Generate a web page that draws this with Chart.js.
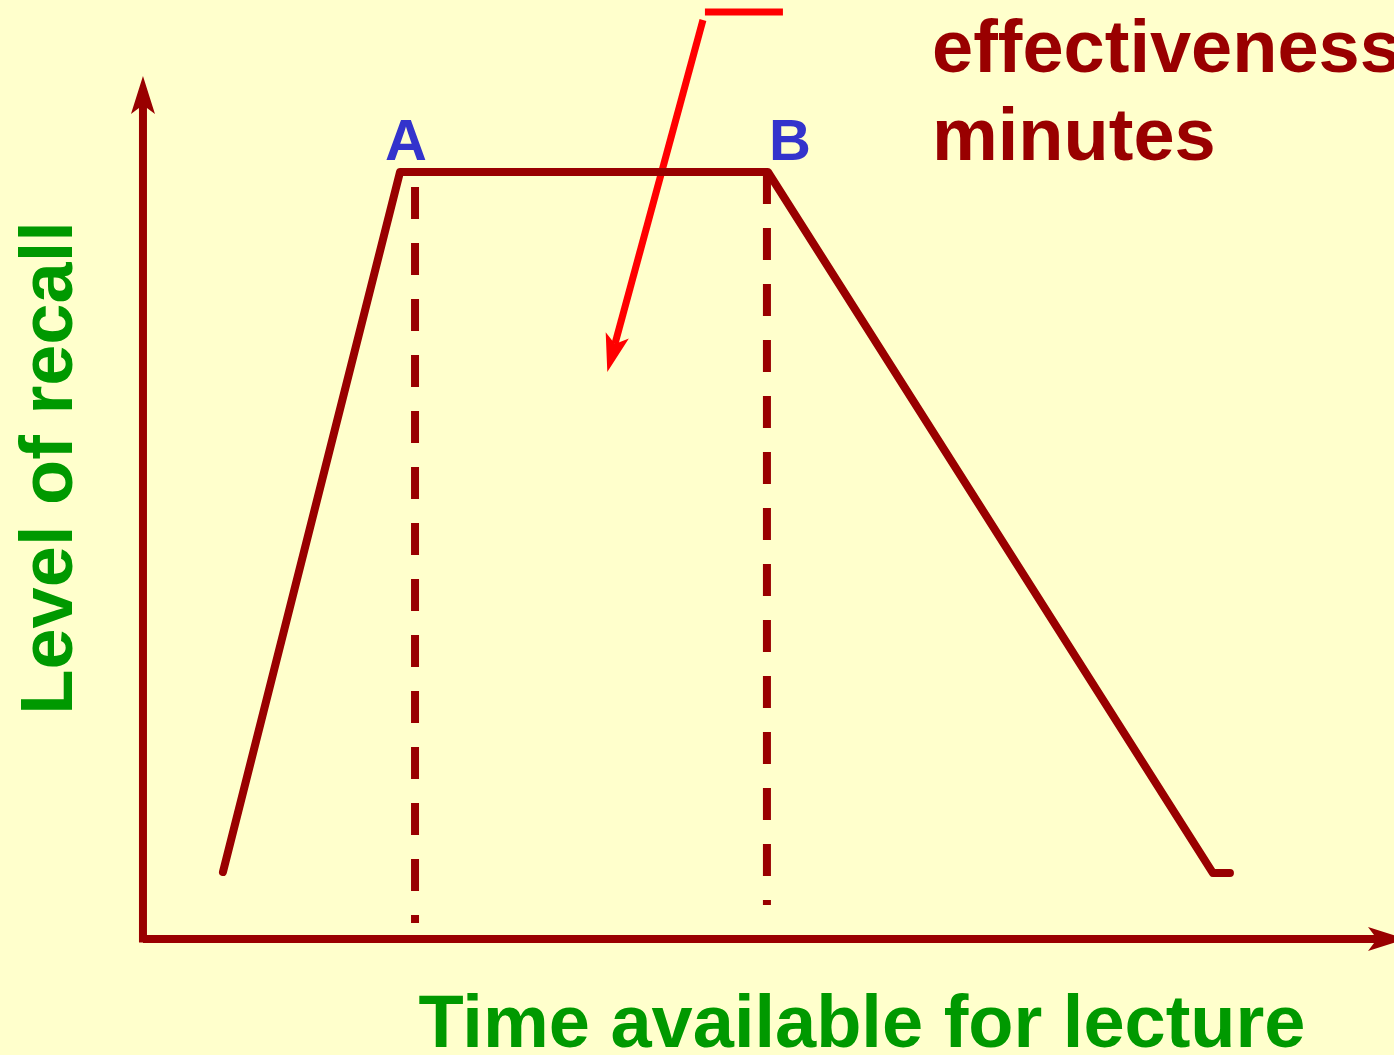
<!DOCTYPE html>
<html>
<head>
<meta charset="utf-8">
<script src="https://cdn.jsdelivr.net/npm/chart.js@4"></script>
<style>
  html, body { margin: 0; padding: 0; background: #FFFFCC; overflow: hidden; }
  canvas { display: block; }
</style>
</head>
<body>
<canvas id="recall" width="1394" height="1055"></canvas>
<script>
// recall curve (arbitrary units, origin at the axes corner)
const recallX = [6.45, 20.73, 50.40, 86.29, 87.66];
const recallY = [7.79, 89.19, 89.19, 7.67, 7.67];

// dashed markers A and B
const markLabels = ['A', 'B'];
const markX = [21.94, 50.32];
const markTop = [87.44, 89.19];
const markBottom = [1.86, 3.95];

// red pointer: short bar at the top, then the arrow shaft
const barX = [51.61, 45.32];
const barY = [107.79, 107.79];
const shaftX = [45.16, 38.06];
const shaftY = [106.86, 69.19];

// axes
const axisX = [0, 99.52];
const axisY = [-0.4, 96.98];

const xTitle = 'Time available for lecture';
const yTitle = 'Level of recall';
const noteLines = ['effectiveness', 'minutes'];

const DARK_RED = '#990000';

const toPoints = (xs, ys) => xs.map((x, i) => ({ x: x, y: ys[i] }));

const datasets = [
    {
        label: 'x axis',
        data: [{ x: axisX[0], y: 0 }, { x: axisX[1], y: 0 }],
        borderColor: DARK_RED, borderWidth: 8, borderCapStyle: 'butt',
        arrow: DARK_RED
    },
    {
        label: 'y axis',
        data: [{ x: 0, y: axisY[0] }, { x: 0, y: axisY[1] }],
        borderColor: DARK_RED, borderWidth: 8, borderCapStyle: 'butt',
        arrow: DARK_RED
    },
    {
        label: 'recall',
        data: toPoints(recallX, recallY),
        borderColor: DARK_RED, borderWidth: 8,
        borderCapStyle: 'round', borderJoinStyle: 'round'
    }
];

markX.forEach((x, i) => {
    datasets.push({
        label: markLabels[i],
        data: [{ x: x, y: markTop[i] }, { x: x, y: markBottom[i] }],
        borderColor: DARK_RED, borderWidth: 8,
        borderDash: [32, 24], borderCapStyle: 'butt'
    });
});

datasets.push({
    label: 'pointer bar',
    data: toPoints(barX, barY),
    borderColor: '#FF0000', borderWidth: 7, borderCapStyle: 'butt'
});
datasets.push({
    label: 'pointer',
    data: toPoints(shaftX, shaftY),
    borderColor: '#FF0000', borderWidth: 7, borderCapStyle: 'butt',
    arrow: '#FF0000'
});

// stealth arrow head at the last point of a dataset
function drawHead(ctx, from, to, color) {
    const dx = to.x - from.x, dy = to.y - from.y;
    const len = Math.hypot(dx, dy);
    const ux = dx / len, uy = dy / len;
    const nx = -uy, ny = ux;
    const ahead = 29, back = 9, half = 12;
    const tip = { x: to.x + ux * ahead, y: to.y + uy * ahead };
    ctx.save();
    ctx.fillStyle = color;
    ctx.beginPath();
    ctx.moveTo(tip.x, tip.y);
    ctx.lineTo(to.x - ux * back + nx * half, to.y - uy * back + ny * half);
    ctx.lineTo(to.x, to.y);
    ctx.lineTo(to.x - ux * back - nx * half, to.y - uy * back - ny * half);
    ctx.closePath();
    ctx.fill();
    ctx.restore();
}

const decorations = {
    id: 'decorations',
    beforeDraw(chart) {
        const ctx = chart.ctx;
        ctx.save();
        ctx.fillStyle = '#FFFFCC';
        ctx.fillRect(0, 0, chart.width, chart.height);
        ctx.restore();
    },
    afterDatasetsDraw(chart) {
        const ctx = chart.ctx;
        chart.data.datasets.forEach((ds, i) => {
            if (!ds.arrow) return;
            const pts = chart.getDatasetMeta(i).data;
            const n = pts.length;
            drawHead(ctx, pts[n - 2], pts[n - 1], ds.arrow);
        });

        const xs = chart.scales.x;
        ctx.save();
        ctx.textBaseline = 'alphabetic';

        // A / B labels above the dashed markers
        ctx.fillStyle = '#3333CC';
        ctx.font = 'bold 58px "Liberation Sans", Arial, sans-serif';
        ctx.textAlign = 'center';
        const labelShift = [-9, 23];
        markX.forEach((x, i) => {
            ctx.fillText(markLabels[i], xs.getPixelForValue(x) + labelShift[i], 160);
        });

        // note in the top right corner
        ctx.fillStyle = DARK_RED;
        ctx.font = 'bold 74px "Liberation Sans", Arial, sans-serif';
        ctx.textAlign = 'left';
        ctx.fillText(noteLines[0], 932, 72);
        ctx.fillText(noteLines[1], 932, 160);

        // axis titles
        ctx.fillStyle = '#009900';
        ctx.textAlign = 'center';
        ctx.fillText(xTitle, 862, 1047);
        ctx.translate(72, 468);
        ctx.rotate(-Math.PI / 2);
        ctx.fillText(yTitle, 0, 0);
        ctx.restore();
    }
};

new Chart(document.getElementById('recall'), {
    type: 'line',
    data: { datasets: datasets },
    options: {
        responsive: false,
        animation: false,
        events: [],
        layout: { padding: 0 },
        elements: { point: { radius: 0 }, line: { tension: 0 } },
        datasets: { line: { clip: false } },
        scales: {
            x: { type: 'linear', min: -11.53, max: 100.89, display: false },
            y: { type: 'linear', min: -13.49, max: 109.19, display: false }
        },
        plugins: {
            legend: { display: false },
            title: { display: false },
            tooltip: { enabled: false }
        }
    },
    plugins: [decorations]
});
</script>
</body>
</html>
